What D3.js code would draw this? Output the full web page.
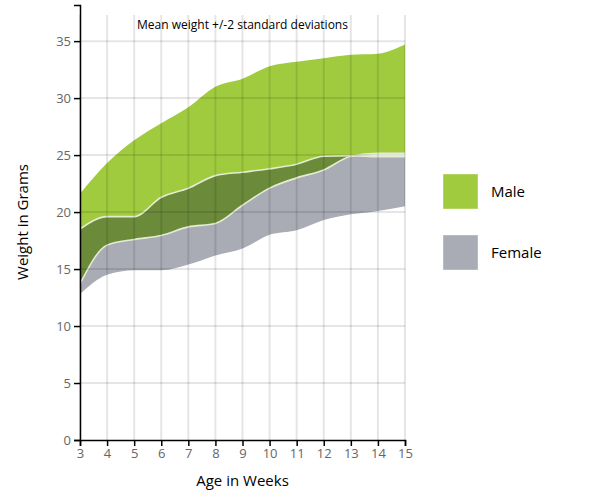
<head>
<script src="https://d3js.org/d3.v7.min.js" charset="utf-8"></script>
</head>

<body>
<div id="chart"></div>

<style>
    body {margin:0;background:#fff;}
    text {font-family:"Open Sans", sans-serif;}
    .tick text {fill:#666;font-size:13px;}
    .domain, .tick line {stroke:#000;stroke-width:1.5px;}
</style>

<script>

// weeks and weight bands (mean +/- 2 sd)
const weeks = [3, 4, 5, 6, 7, 8, 9, 10, 11, 12, 13, 14, 15];
const maleHigh = [21.6, 24.3, 26.3, 27.8, 29.2, 31.0, 31.7, 32.8, 33.2, 33.5, 33.8, 33.9, 34.7];
const maleLow = [13.7, 17.1, 17.6, 17.95, 18.7, 19.0, 20.6, 22.1, 23.0, 23.7, 24.9, 25.15, 25.15];
const femaleHigh = [18.5, 19.6, 19.6, 21.3, 22.1, 23.2, 23.5, 23.8, 24.2, 24.9, 24.95, 24.85, 24.85];
const femaleLow = [12.8, 14.5, 14.9, 14.9, 15.4, 16.2, 16.8, 18.0, 18.4, 19.3, 19.8, 20.1, 20.5];
const yTicks = [0, 5, 10, 15, 20, 25, 30, 35];
const series = ["Male", "Female"];

const width = 605, height = 500;
const margin = {top: 5, left: 80, right: 200, bottom: 60};
const colors = {Male: "#a0cb3e", Female: "#a9abb5"};

const male = weeks.map((w, i) => ({w: w, lo: maleLow[i], hi: maleHigh[i]}));
const female = weeks.map((w, i) => ({w: w, lo: femaleLow[i], hi: femaleHigh[i]}));

const x = d3.scaleLinear()
    .domain(d3.extent(weeks))
    .range([margin.left, width - margin.right]);

const y = d3.scaleLinear()
    .domain([0, d3.max(maleHigh) * 1.1])
    .range([height - margin.bottom, margin.top]);

const svg = d3.select("#chart").append("svg")
    .attr("width", width)
    .attr("height", height);

const area = d3.area()
    .x(d => x(d.w))
    .y0(d => y(d.lo))
    .y1(d => y(d.hi))
    .curve(d3.curveMonotoneX);

const lowLine = d3.line().x(d => x(d.w)).y(d => y(d.lo)).curve(d3.curveMonotoneX);
const highLine = d3.line().x(d => x(d.w)).y(d => y(d.hi)).curve(d3.curveMonotoneX);

svg.append("clipPath")
    .attr("id", "femaleClip")
  .append("path")
    .datum(female)
    .attr("d", area);

svg.append("path")
    .datum(female)
    .attr("d", area)
    .style("fill", colors.Female);

svg.append("path")
    .datum(male)
    .attr("d", area)
    .style("fill", colors.Male);

// overlap of the two bands
svg.append("path")
    .datum(male)
    .attr("d", area)
    .attr("clip-path", "url(#femaleClip)")
    .style("fill", "#6b8b3a");

svg.append("path")
    .datum(male)
    .attr("d", lowLine)
    .style("fill", "none")
    .style("stroke", "#e4ecd2")
    .style("stroke-width", "1.6px");

svg.append("path")
    .datum(female)
    .attr("d", highLine)
    .style("fill", "none")
    .style("stroke", "#e4ecd2")
    .style("stroke-width", "1.6px");

// grid on top of the bands
const grid = svg.append("g")
    .style("stroke", "#000")
    .style("stroke-opacity", 0.1)
    .style("stroke-width", "2px");

grid.selectAll(".v")
    .data(weeks)
    .enter().append("line")
    .attr("x1", d => x(d)).attr("x2", d => x(d))
    .attr("y1", y(0)).attr("y2", 15);

grid.selectAll(".h")
    .data(yTicks.slice(1))
    .enter().append("line")
    .attr("x1", x(3)).attr("x2", x(15))
    .attr("y1", d => y(d)).attr("y2", d => y(d));

svg.append("g")
    .attr("transform", `translate(0,${y(0)})`)
    .call(d3.axisBottom(x).tickValues(weeks).tickFormat(d3.format("d")));

svg.append("g")
    .attr("transform", `translate(${x(3)},0)`)
    .call(d3.axisLeft(y).tickValues(yTicks));

svg.append("text")
    .attr("x", (x(3) + x(15)) / 2)
    .attr("y", 29)
    .attr("text-anchor", "middle")
    .style("font-size", "12px")
    .text("Mean weight +/-2 standard deviations");

svg.append("text")
    .attr("x", (x(3) + x(15)) / 2)
    .attr("y", 486)
    .attr("text-anchor", "middle")
    .style("font-size", "15px")
    .text("Age in Weeks");

svg.append("text")
    .attr("transform", "translate(28,222) rotate(-90)")
    .attr("text-anchor", "middle")
    .style("font-size", "15px")
    .text("Weight in Grams");

const legend = svg.selectAll(".legend")
    .data(series)
    .enter().append("g")
    .attr("transform", (d, i) => `translate(443,${174 + i * 61})`);

legend.append("rect")
    .attr("width", 35)
    .attr("height", 35)
    .style("fill", d => colors[d])
    .style("stroke", "#fff")
    .style("stroke-opacity", 0.4);

legend.append("text")
    .attr("x", 48)
    .attr("y", 23)
    .style("font-size", "15px")
    .text(d => d);

</script>
</body>
